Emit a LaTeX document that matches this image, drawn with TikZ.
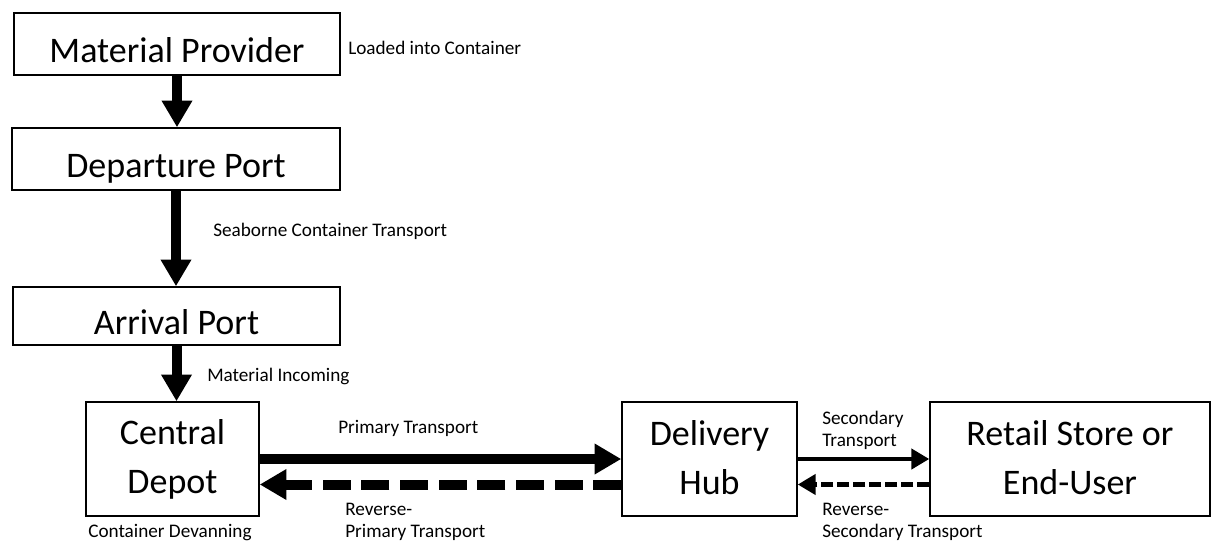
\documentclass[tikz,border=0pt]{standalone}
\usepackage{fontspec}
\setmainfont{Carlito}
\usetikzlibrary{arrows.meta,calc}

\begin{document}
\begin{tikzpicture}[x=0.75pt, y=-0.75pt,
  panel/.style={draw, line width=1.1pt, inner sep=0pt, align=center,
    font=\fontsize{27}{36.75}\selectfont},
  stage/.style={panel, execute at begin node={\rule[-5pt]{0pt}{38pt}},
    execute at end node={\rule[-5pt]{0pt}{5pt}}},
  stagetwo/.style={panel, execute at begin node={\rule[-2.5pt]{0pt}{45pt}},
    execute at end node={\rule[-2.5pt]{0pt}{2.5pt}}},
  tag/.style={inner sep=0pt, anchor=base west, align=left,
    font=\fontsize{14.4}{16.5}\selectfont},
  flow/.style={line width=7.5pt, -{Triangle[length=20pt, width=21.75pt]}},
  flowback/.style={flow, dash pattern=on 21pt off 8pt},
  hop/.style={line width=3.4pt, -{Triangle[length=13.5pt, width=15pt]}},
  hopback/.style={hop, dash pattern=on 9pt off 3pt}]
  \useasboundingbox (0,0) rectangle (1213,542);
  % stages of the chain
  \node[stage, minimum width=244.5pt, minimum height=46.5pt] (prov) at (177,44) {Material Provider};
  \node[stage, minimum width=246pt, minimum height=46.5pt] (dep) at (176,159) {Departure Port};
  \node[stage, minimum width=245.25pt, minimum height=43.5pt] (arr) at (176.5,316) {Arrival Port};
  \node[stagetwo, minimum width=129.75pt, minimum height=85.5pt] (depot) at (172.5,459) {Central\\Depot};
  \node[stagetwo, minimum width=131.25pt, minimum height=85.5pt] (hub) at (709.5,459) {Delivery\\Hub};
  \node[stagetwo, minimum width=210pt, minimum height=85.5pt] (shop) at (1070,459) {Retail Store or\\End-User};
  % downward flow
  \foreach \a/\b in {prov/dep, dep/arr, arr/depot}{
    \draw[flow] (\a.south) -- (\a.south |- \b.north);
  }
  % forward and return legs
  \draw[flow] (depot.east) -- (hub.west);
  \draw[flowback] ($(hub.west)+(0,25.5)$) -- ($(depot.east)+(0,25.5)$);
  \draw[hop] (hub.east) -- (shop.west);
  \draw[hopback] ($(shop.west)+(0,25.5)$) -- ($(hub.east)+(0,25.5)$);
  % labels (base = last line)
  \node[tag] (load) at (348,55) {Loaded into Container};
  \node[tag] (sea) at (213,236) {Seaborne Container Transport};
  \node[tag] (inc) at (207,381) {Material Incoming};
  \node[tag] (devan) at (88,537) {Container Devanning};
  \node[tag] (prim) at (338,433) {Primary Transport};
  \node[tag] (revprim) at (345,537) {Reverse-\\Primary Transport};
  \node[tag] (sec) at (822,446) {Secondary\\Transport};
  \node[tag] (revsec) at (822,537) {Reverse-\\Secondary Transport};
\end{tikzpicture}
\end{document}
